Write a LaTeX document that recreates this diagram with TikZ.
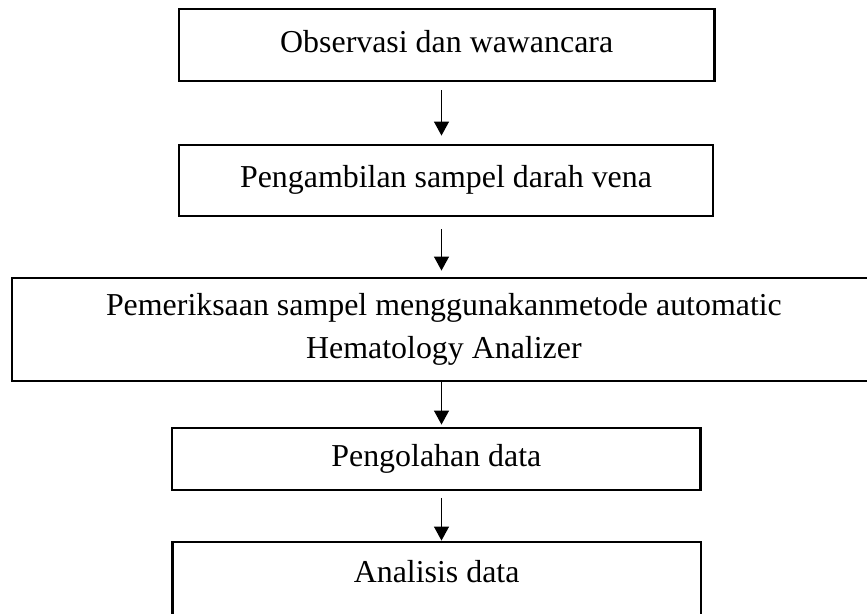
\documentclass[tikz,border=0pt]{standalone}
\usepackage{fontspec}
\setmainfont{Liberation Serif}
\usetikzlibrary{arrows.meta}

\begin{document}
\begin{tikzpicture}[>={Triangle[width=3mm,length=2.8mm]}, line width=0.7pt,
    stepbox/.style={draw, line width=1.3pt, align=center, inner sep=0pt,
      font=\fontsize{18.15pt}{24.3pt}\selectfont},
    oneline/.style={text height=0.446cm, text depth=0.16cm}]
    % 画布范围
    \useasboundingbox (0,0) rectangle (17.34,-12.26);
    % 流程方框
    \node[stepbox, oneline, minimum width=10.71cm, minimum height=1.434cm]
         (obs) at (8.934,-0.898) {Observasi dan wawancara};
    \node[stepbox, oneline, minimum width=10.68cm, minimum height=1.414cm]
         (sampel) at (8.92,-3.607) {Pengambilan sampel darah vena};
    \node[stepbox, minimum width=17.286cm, minimum height=2.054cm]
         (periksa) at (8.878,-6.593)
         {Pemeriksaan sampel menggunakanmetode automatic\\Hematology Analizer};
    \node[stepbox, oneline, minimum width=10.562cm, minimum height=1.246cm]
         (olah) at (8.727,-9.177) {Pengolahan data};
    \node[stepbox, text height=0.446cm, text depth=0.86cm,
          minimum width=10.568cm, minimum height=2.054cm]
         (analisis) at (8.732,-11.861) {Analisis data};

    % 箭头所在竖线
    \coordinate (axis) at (8.83,0);

    % 连线
    \draw[->, shorten <=1.72mm, shorten >=1.66mm] (obs.south -| axis) -- (sampel.north -| axis);
    \draw[->, shorten <=2.46mm, shorten >=1.32mm] (sampel.south -| axis) -- (periksa.north -| axis);
    \draw[->, shorten >=0.4mm] (periksa.south -| axis) -- (olah.north -| axis);
    \draw[->, shorten <=1.34mm] (olah.south -| axis) -- (analisis.north -| axis);
  \end{tikzpicture}
\end{document}
